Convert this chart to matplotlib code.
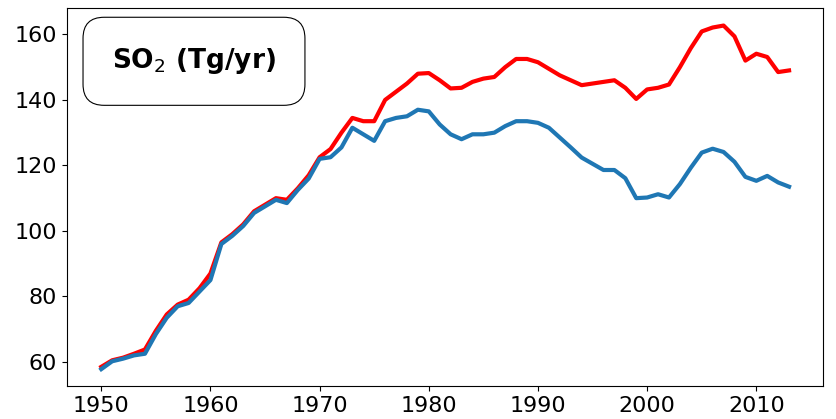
import matplotlib.pyplot as plt

# years and SO2 emissions (Tg/yr)
years = list(range(1950, 2014))
so2_red = [58.5, 60.5, 61.3, 62.5, 63.8, 69.5, 74.5, 77.5, 79.0, 82.5,
           87.0, 96.5, 99.0, 102.0, 106.0, 108.0, 110.0, 109.5, 113.0, 117.0,
           122.5, 125.0, 130.0, 134.5, 133.5, 133.5, 140.0, 142.5, 145.0, 148.0,
           148.2, 146.0, 143.5, 143.7, 145.5, 146.5, 147.0, 150.0, 152.5, 152.5,
           151.5, 149.5, 147.5, 146.0, 144.5, 145.0, 145.5, 146.0, 143.7, 140.3,
           143.2, 143.7, 144.7, 150.0, 155.8, 160.9, 162.1, 162.7, 159.4, 152.0,
           154.1, 153.1, 148.5, 149.0]
so2_blue = [57.8, 60.2, 61.0, 62.0, 62.5, 68.5, 73.5, 77.0, 78.0, 81.5,
            85.0, 96.0, 98.5, 101.5, 105.5, 107.5, 109.5, 108.5, 112.5, 116.0,
            122.0, 122.5, 125.5, 131.5, 129.5, 127.5, 133.5, 134.5, 135.0, 137.0,
            136.5, 132.5, 129.5, 128.0, 129.5, 129.5, 130.0, 132.0, 133.5, 133.5,
            133.0, 131.5, 128.5, 125.5, 122.4, 120.5, 118.6, 118.6, 116.1, 110.0,
            110.2, 111.2, 110.2, 114.3, 119.3, 123.9, 125.1, 124.1, 121.1, 116.5,
            115.3, 116.8, 114.8, 113.5]

fig, ax = plt.subplots(figsize=(8.36, 4.19), dpi=100)
fig.subplots_adjust(left=0.08, right=0.985, bottom=0.078, top=0.98)

ax.plot(years, so2_red, color='red', linewidth=3)
ax.plot(years, so2_blue, color='#1f77b4', linewidth=3)

ax.set_xticks([1950, 1960, 1970, 1980, 1990, 2000, 2010])
ax.set_yticks([60, 80, 100, 120, 140, 160])
ax.tick_params(labelsize=16)

ax.text(0.168, 0.86, r'SO$_2$ (Tg/yr)', transform=ax.transAxes, fontsize=19,
        fontweight='bold', ha='center', va='center',
        bbox=dict(boxstyle='round,pad=1.1,rounding_size=0.8', facecolor='white',
                  edgecolor='black', linewidth=0.8))

fig.savefig('out.png')
